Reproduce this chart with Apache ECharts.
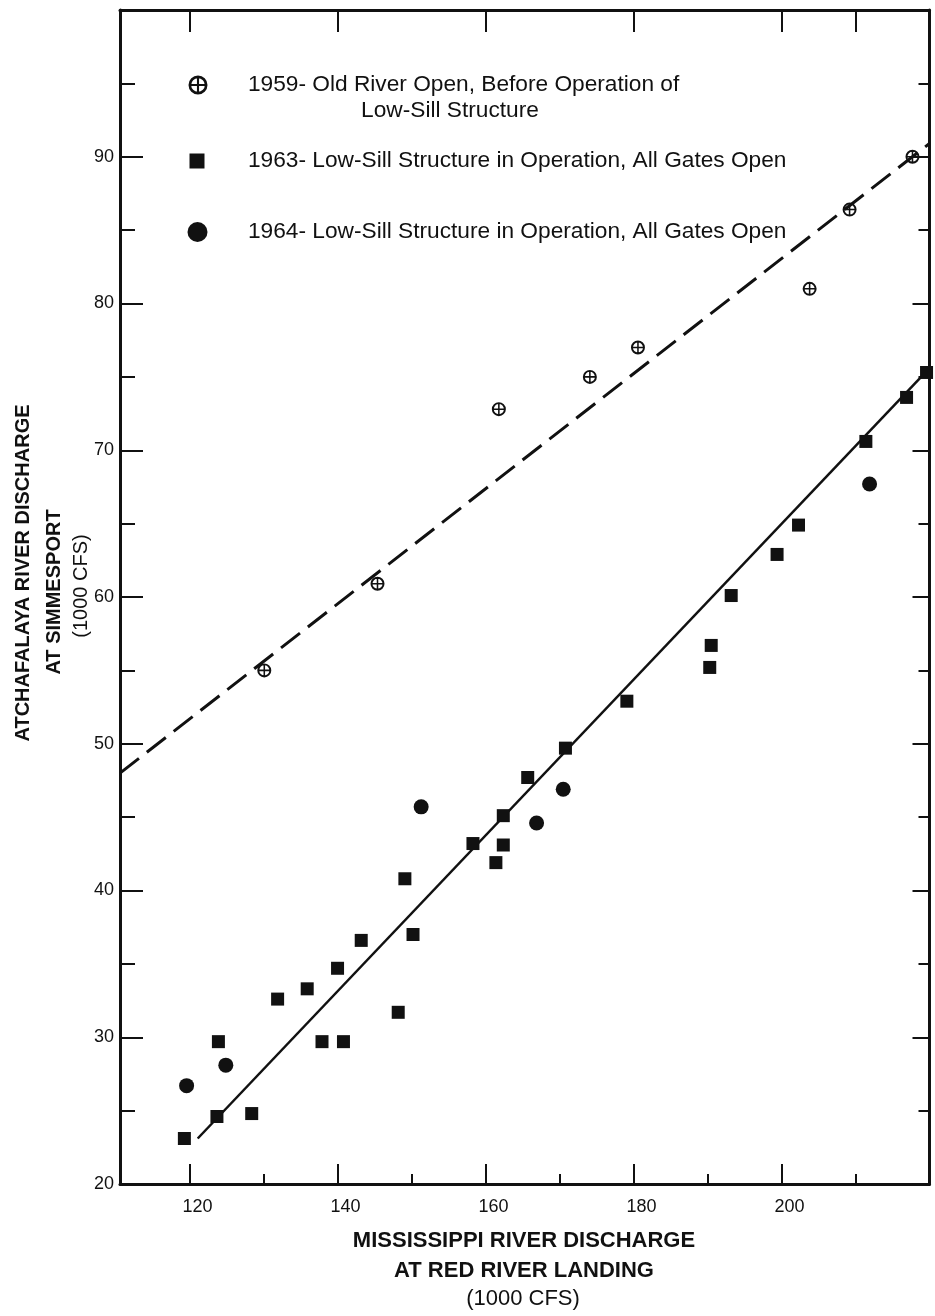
<!DOCTYPE html>
<html><head><meta charset="utf-8">
<script src="https://cdn.jsdelivr.net/npm/echarts@6/dist/echarts.min.js"></script>
<style>html,body{margin:0;padding:0;background:#fff}#c{width:935px;height:1316px}</style>
</head><body><div id="c"></div>
<script>
// ---- axis ticks / labels ----
const xMajorTicks = [120, 140, 160, 180, 200];
const xMinorTicks = [130, 150, 170, 190, 210];
const xTopTicks = [120, 140, 160, 180, 200, 210];
const xLabels = [120, 140, 160, 180, 200];

// ---- data (Mississippi discharge, Atchafalaya discharge), 1000 cfs ----
const data1959 = [[130.1,55.0],[145.4,60.9],[161.8,72.8],[174.1,75.0],[180.6,77.0],[203.8,81.0],[209.2,86.4],[217.7,90.0]];
const data1963 = [[119.3,23.1],[123.7,24.6],[128.4,24.8],[123.9,29.7],[131.9,32.6],[135.9,33.3],[137.9,29.7],[140.8,29.7],
  [140.0,34.7],[143.2,36.6],[148.2,31.7],[150.2,37.0],[149.1,40.8],[158.3,43.2],[162.4,45.1],[162.4,43.1],[161.4,41.9],
  [165.7,47.7],[170.8,49.7],[179.1,52.9],[190.3,55.2],[190.5,56.7],[193.2,60.1],[199.4,62.9],[202.3,64.9],[211.4,70.6],
  [216.9,73.6],[219.6,75.3]];
const data1964 = [[119.6,26.7],[124.9,28.1],[151.3,45.7],[166.9,44.6],[170.5,46.9],[211.9,67.7]];
const line1959 = [[110.6,48.0],[220,90.9]];
const line1963 = [[121.1,23.1],[220,75.6]];

const legend1959a = '1959- Old River Open, Before Operation of';
const legend1959b = 'Low-Sill Structure';
const legend1963 = '1963- Low-Sill Structure in Operation, All Gates Open';
const legend1964 = '1964- Low-Sill Structure in Operation, All Gates Open';
const xTitle = ['MISSISSIPPI RIVER DISCHARGE', 'AT RED RIVER LANDING', '(1000 CFS)'];
const yTitle = ['ATCHAFALAYA RIVER DISCHARGE', 'AT SIMMESPORT', '(1000 CFS)'];

const FONT = 'Liberation Sans';
const INK = '#111';
const crossPath = 'path://M0,10A10,10,0,1,1,20,10A10,10,0,1,1,0,10ZM2.8,10A7.2,7.2,0,1,0,17.2,10A7.2,7.2,0,1,0,2.8,10ZM2.8,8.9H17.2V11.1H2.8ZM8.9,2.8H11.1V17.2H8.9Z';

const chart = echarts.init(document.getElementById('c'), null, {renderer: 'canvas'});
const axisLineStyle = {color: INK, width: 3};
const tickStyle = {color: INK, width: 2};
const legendText = pad => ({fontSize: 22.7, lineHeight: 26, color: INK, fontFamily: FONT, padding: [0,0,0,pad]});

chart.setOption({
  animation: false,
  backgroundColor: '#fff',
  textStyle: {fontFamily: FONT, color: INK},
  grid: {left: 120, right: 5.5, top: 10, bottom: 132, containLabel: false},
  legend: [
    {data: [{name: 's1959', icon: crossPath}], selectedMode: false, left: 188.5, top: 72, padding: 0,
     itemWidth: 19, itemHeight: 19, formatter: () => legend1959a, textStyle: legendText(35.5)},
    {data: [{name: 's1963', icon: 'rect'}], selectedMode: false, left: 189.5, top: 148, padding: 0,
     itemWidth: 15, itemHeight: 15, formatter: () => legend1963, textStyle: legendText(38.5)},
    {data: [{name: 's1964', icon: 'circle'}], selectedMode: false, left: 187.5, top: 219, padding: 0,
     itemWidth: 20, itemHeight: 20, formatter: () => legend1964, textStyle: legendText(35.5)}
  ],
  graphic: [
    {type: 'text', x: 450, y: 111, style: {text: legend1959b, font: '22.7px "Liberation Sans"', fill: INK, align: 'center', verticalAlign: 'middle'}},
    {type: 'text', x: 524, y: 1241, style: {text: xTitle[0], font: 'bold 22px "Liberation Sans"', fill: INK, align: 'center', verticalAlign: 'middle'}},
    {type: 'text', x: 524, y: 1271, style: {text: xTitle[1], font: 'bold 22px "Liberation Sans"', fill: INK, align: 'center', verticalAlign: 'middle'}},
    {type: 'text', x: 523, y: 1299, style: {text: xTitle[2], font: '22px "Liberation Sans"', fill: INK, align: 'center', verticalAlign: 'middle'}},
    {type: 'text', x: 23, y: 573, rotation: Math.PI / 2, style: {text: yTitle[0], font: 'bold 20px "Liberation Sans"', fill: INK, align: 'center', verticalAlign: 'middle'}},
    {type: 'text', x: 54, y: 592, rotation: Math.PI / 2, style: {text: yTitle[1], font: 'bold 20px "Liberation Sans"', fill: INK, align: 'center', verticalAlign: 'middle'}},
    {type: 'text', x: 81, y: 586, rotation: Math.PI / 2, style: {text: yTitle[2], font: '20px "Liberation Sans"', fill: INK, align: 'center', verticalAlign: 'middle'}}
  ],
  xAxis: [
    {type: 'value', min: 110.6, max: 220, position: 'bottom', splitLine: {show: false},
     axisLine: {show: true, onZero: false, lineStyle: axisLineStyle},
     axisTick: {show: true, inside: true, length: 20, lineStyle: tickStyle, customValues: xMajorTicks},
     axisLabel: {show: true, customValues: xLabels, fontSize: 18, color: INK, fontFamily: FONT, margin: 14, padding: [0,0,0,16]}},
    {type: 'value', min: 110.6, max: 220, position: 'bottom', offset: 0, splitLine: {show: false},
     axisLine: {show: false, onZero: false},
     axisTick: {show: true, inside: true, length: 10, lineStyle: tickStyle, customValues: xMinorTicks},
     axisLabel: {show: false}},
    {type: 'value', min: 110.6, max: 220, position: 'top', splitLine: {show: false},
     axisLine: {show: true, onZero: false, lineStyle: axisLineStyle},
     axisTick: {show: true, inside: true, length: 22, lineStyle: tickStyle, customValues: xTopTicks},
     axisLabel: {show: false}}
  ],
  yAxis: [
    {type: 'value', min: 20, max: 100, interval: 10, position: 'left', splitLine: {show: false},
     axisLine: {show: true, onZero: false, lineStyle: axisLineStyle},
     axisTick: {show: true, inside: true, length: 23, lineStyle: tickStyle},
     minorTick: {show: true, splitNumber: 2, length: 15, lineStyle: tickStyle},
     minorSplitLine: {show: false},
     axisLabel: {show: true, fontSize: 18, color: INK, fontFamily: FONT, margin: 6, showMaxLabel: false,
       formatter: v => (v >= 100 ? '' : String(v))}},
    {type: 'value', min: 20, max: 100, interval: 10, position: 'right', splitLine: {show: false},
     axisLine: {show: true, onZero: false, lineStyle: axisLineStyle},
     axisTick: {show: true, inside: true, length: 17, lineStyle: tickStyle},
     minorTick: {show: true, splitNumber: 2, length: 11, lineStyle: tickStyle},
     minorSplitLine: {show: false},
     axisLabel: {show: false}}
  ],
  series: [
    {type: 'line', name: 'fit1959', data: line1959, xAxisIndex: 0, yAxisIndex: 0, symbol: 'none', silent: true,
     lineStyle: {color: INK, width: 3, type: [24, 10]}, z: 2},
    {type: 'line', name: 'fit1963', data: line1963, xAxisIndex: 0, yAxisIndex: 0, symbol: 'none', silent: true,
     lineStyle: {color: INK, width: 2.5, type: 'solid'}, z: 2},
    {type: 'scatter', name: 's1959', data: data1959, xAxisIndex: 0, yAxisIndex: 0, symbol: crossPath, symbolSize: 14,
     itemStyle: {color: INK, opacity: 1}, z: 3},
    {type: 'scatter', name: 's1963', data: data1963, xAxisIndex: 0, yAxisIndex: 0, symbol: 'rect', symbolSize: 13,
     itemStyle: {color: INK, opacity: 1}, z: 3},
    {type: 'scatter', name: 's1964', data: data1964, xAxisIndex: 0, yAxisIndex: 0, symbol: 'circle', symbolSize: 15,
     itemStyle: {color: INK, opacity: 1}, z: 3}
  ]
});
</script></body></html>
